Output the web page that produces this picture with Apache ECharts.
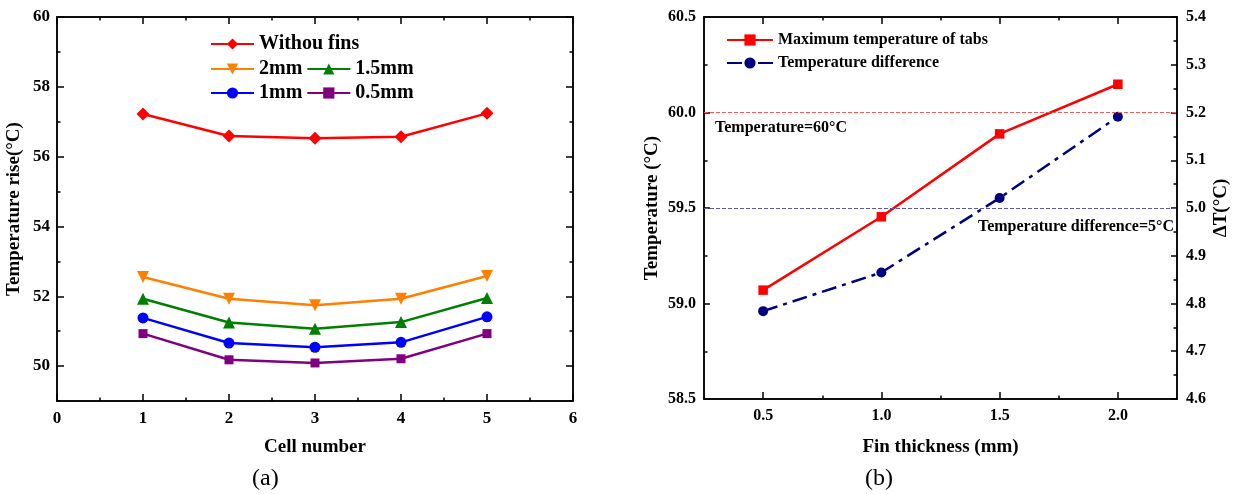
<!DOCTYPE html>
<html><head><meta charset="utf-8">
<script src="https://cdn.jsdelivr.net/npm/echarts@6/dist/echarts.min.js"></script>
<style>html,body{margin:0;padding:0;background:#fff}#c{width:1242px;height:494px}</style>
</head><body><div id="c"></div>
<script>
// ---------- Panel (a) data ----------
const cells = [1, 2, 3, 4, 5];
const withoutFins = [57.22, 56.59, 56.53, 56.57, 57.24];
const fin2mm = [52.55, 51.93, 51.74, 51.93, 52.58];
const fin15mm = [51.93, 51.25, 51.07, 51.26, 51.95];
const fin1mm = [51.38, 50.66, 50.54, 50.68, 51.41];
const fin05mm = [50.93, 50.18, 50.09, 50.21, 50.93];
const aXTicks = [0, 1, 2, 3, 4, 5, 6];
const aXMinor = [0.5, 1.5, 2.5, 3.5, 4.5, 5.5];
const aYTicks = [50, 52, 54, 56, 58, 60];
const aYMinor = [49, 51, 53, 55, 57, 59];
// ---------- Panel (b) data ----------
const thickness = [0.5, 1.0, 1.5, 2.0];
const maxTabTemp = [59.07, 59.454, 59.888, 60.148];
const tempDiff = [4.784, 4.865, 5.021, 5.191];
const tempLimit = 60;
const diffLimit = 5;
const bXTicks = [0.5, 1.0, 1.5, 2.0];
const bXMinor = [0.75, 1.25, 1.75];
const bYTicks = [58.5, 59.0, 59.5, 60.0, 60.5];
const bYMinor = [58.75, 59.25, 59.75, 60.25];
const bY2Ticks = [4.6, 4.7, 4.8, 4.9, 5.0, 5.1, 5.2, 5.3, 5.4];
const bY2Minor = [4.65, 4.75, 4.85, 4.95, 5.05, 5.15, 5.25, 5.35];

const FONT = '"Liberation Serif","Times New Roman",serif';
const zip = (xs, ys) => xs.map((x, i) => [x, ys[i]]);

function axis(grid, pos, min, max, ticks, len, labels, fmt, fs, margin, extra) {
  return Object.assign({
    type: 'value', gridIndex: grid, position: pos, min: min, max: max,
    axisLine: { show: true, onZero: false, lineStyle: { color: '#000', width: 1.5 } },
    axisTick: { show: true, inside: true, length: len, customValues: ticks, lineStyle: { color: '#000', width: 1.5 } },
    axisLabel: { show: !!labels, customValues: labels || ticks, formatter: fmt, color: '#000',
      fontFamily: FONT, fontWeight: 'bold', fontSize: fs || 16, margin: margin || 8 },
    splitLine: { show: false }
  }, extra || {});
}
const nameStyle = { color: '#000', fontFamily: FONT, fontWeight: 'bold', fontSize: 19 };
const fmtA = v => String(Math.round(v));
const fmtB = v => (+v).toFixed(1);

const xAxes = [
  axis(0, 'bottom', 0, 6, aXTicks, 7, aXTicks, fmtA, 17, 9,
    { name: 'Cell number', nameLocation: 'middle', nameGap: 37, nameTextStyle: nameStyle }),
  axis(0, 'bottom', 0, 6, aXMinor, 3.5),
  axis(0, 'top', 0, 6, aXTicks, 7),
  axis(0, 'top', 0, 6, aXMinor, 3.5),
  axis(1, 'bottom', 0.25, 2.25, bXTicks, 7, bXTicks, fmtB, 16, 9,
    { name: 'Fin thickness (mm)', nameLocation: 'middle', nameGap: 39, nameTextStyle: nameStyle }),
  axis(1, 'bottom', 0.25, 2.25, bXMinor, 3.5),
  axis(1, 'top', 0.25, 2.25, bXTicks, 7),
  axis(1, 'top', 0.25, 2.25, bXMinor, 3.5)
];
const yAxes = [
  axis(0, 'left', 49, 60, aYTicks, 7, aYTicks, fmtA, 17, 7,
    { name: 'Temperature rise(°C)', nameLocation: 'middle', nameGap: 33, nameRotate: 90, nameTextStyle: nameStyle }),
  axis(0, 'left', 49, 60, aYMinor, 3.5),
  axis(0, 'right', 49, 60, aYTicks, 7),
  axis(0, 'right', 49, 60, aYMinor, 3.5),
  axis(1, 'left', 58.5, 60.5, bYTicks, 6, bYTicks, fmtB, 16, 8,
    { name: 'Temperature (°C)', nameLocation: 'middle', nameGap: 42, nameRotate: 90, nameTextStyle: nameStyle }),
  axis(1, 'left', 58.5, 60.5, bYMinor, 3.5),
  axis(1, 'right', 4.6, 5.4, bY2Ticks, 6, bY2Ticks, fmtB, 16, 9,
    { name: 'ΔT(°C)', nameLocation: 'middle', nameGap: 35, nameRotate: 90, nameTextStyle: nameStyle }),
  axis(1, 'right', 4.6, 5.4, bY2Minor, 3.5)
];

function lineSeries(name, data, color, symbol, size, extra) {
  return Object.assign({
    name: name, type: 'line', xAxisIndex: 0, yAxisIndex: 0, data: data,
    symbol: symbol, symbolSize: size, showSymbol: true,
    itemStyle: { color: color }, lineStyle: { color: color, width: 2.5 },
    emphasis: { disabled: true }, z: 3
  }, extra || {});
}
const refLabel = { color: '#000', fontFamily: FONT, fontWeight: 'bold', fontSize: 16 };

const series = [
  lineSeries('Withou fins', zip(cells, withoutFins), '#FF0000', 'diamond', 13),
  lineSeries('2mm', zip(cells, fin2mm), '#FF8000', 'triangle', 12, { symbolRotate: 180 }),
  lineSeries('1.5mm', zip(cells, fin15mm), '#008000', 'triangle', 12),
  lineSeries('1mm', zip(cells, fin1mm), '#0000FF', 'circle', 11),
  lineSeries('0.5mm', zip(cells, fin05mm), '#800080', 'rect', 9),
  lineSeries('Maximum temperature of tabs', zip(thickness, maxTabTemp), '#FF0000', 'rect', 9.5, {
    xAxisIndex: 4, yAxisIndex: 4,
    markLine: { silent: true, symbol: 'none', animation: false,
      lineStyle: { color: '#F25A5A', type: 'dashed', width: 1 },
      label: Object.assign({ position: 'insideStartBottom', formatter: 'Temperature=60°C', distance: [11, 7] }, refLabel),
      data: [{ yAxis: tempLimit }] }
  }),
  lineSeries('Temperature difference', zip(thickness, tempDiff), '#000080', 'circle', 10, {
    xAxisIndex: 4, yAxisIndex: 6,
    lineStyle: { color: '#000080', width: 2.5, type: [15, 6, 4, 6] },
    markLine: { silent: true, symbol: 'none', animation: false,
      lineStyle: { color: '#5A5AAA', type: 'dashed', width: 1 },
      label: Object.assign({ position: 'insideEndBottom', formatter: 'Temperature difference=5°C', distance: [3, 11] }, refLabel),
      data: [{ yAxis: diffLimit }] }
  })
];

const legBase = { itemHeight: 14, selectedMode: false, padding: 0,
  textStyle: { color: '#000', fontFamily: FONT, fontWeight: 'bold', fontSize: 20 } };
const legends = [
  Object.assign({}, legBase, { data: ['Withou fins'], left: 210, top: 34, itemWidth: 43 }),
  Object.assign({}, legBase, { data: ['2mm', '1.5mm'], left: 210, top: 59, itemWidth: 43, itemGap: 4 }),
  Object.assign({}, legBase, { data: ['1mm', '0.5mm'], left: 210, top: 83, itemWidth: 43, itemGap: 4 }),
  Object.assign({}, legBase, { data: ['Maximum temperature of tabs', 'Temperature difference'],
    orient: 'vertical', left: 726, top: 32, itemWidth: 46, itemGap: 7,
    textStyle: { color: '#000', fontFamily: FONT, fontWeight: 'bold', fontSize: 16 } })
];

const chart = echarts.init(document.getElementById('c'), null, { renderer: 'canvas' });
chart.setOption({
  animation: false,
  backgroundColor: '#fff',
  grid: [
    { left: 57, top: 17, width: 516, height: 384 },
    { left: 704, top: 17, width: 473, height: 382 }
  ],
  xAxis: xAxes,
  yAxis: yAxes,
  legend: legends,
  series: series,
  graphic: [
    { type: 'text', left: 252, top: 467, style: { text: '(a)', fill: '#000', font: '24px ' + FONT } },
    { type: 'text', left: 865, top: 467, style: { text: '(b)', fill: '#000', font: '24px ' + FONT } }
  ]
});
</script></body></html>
